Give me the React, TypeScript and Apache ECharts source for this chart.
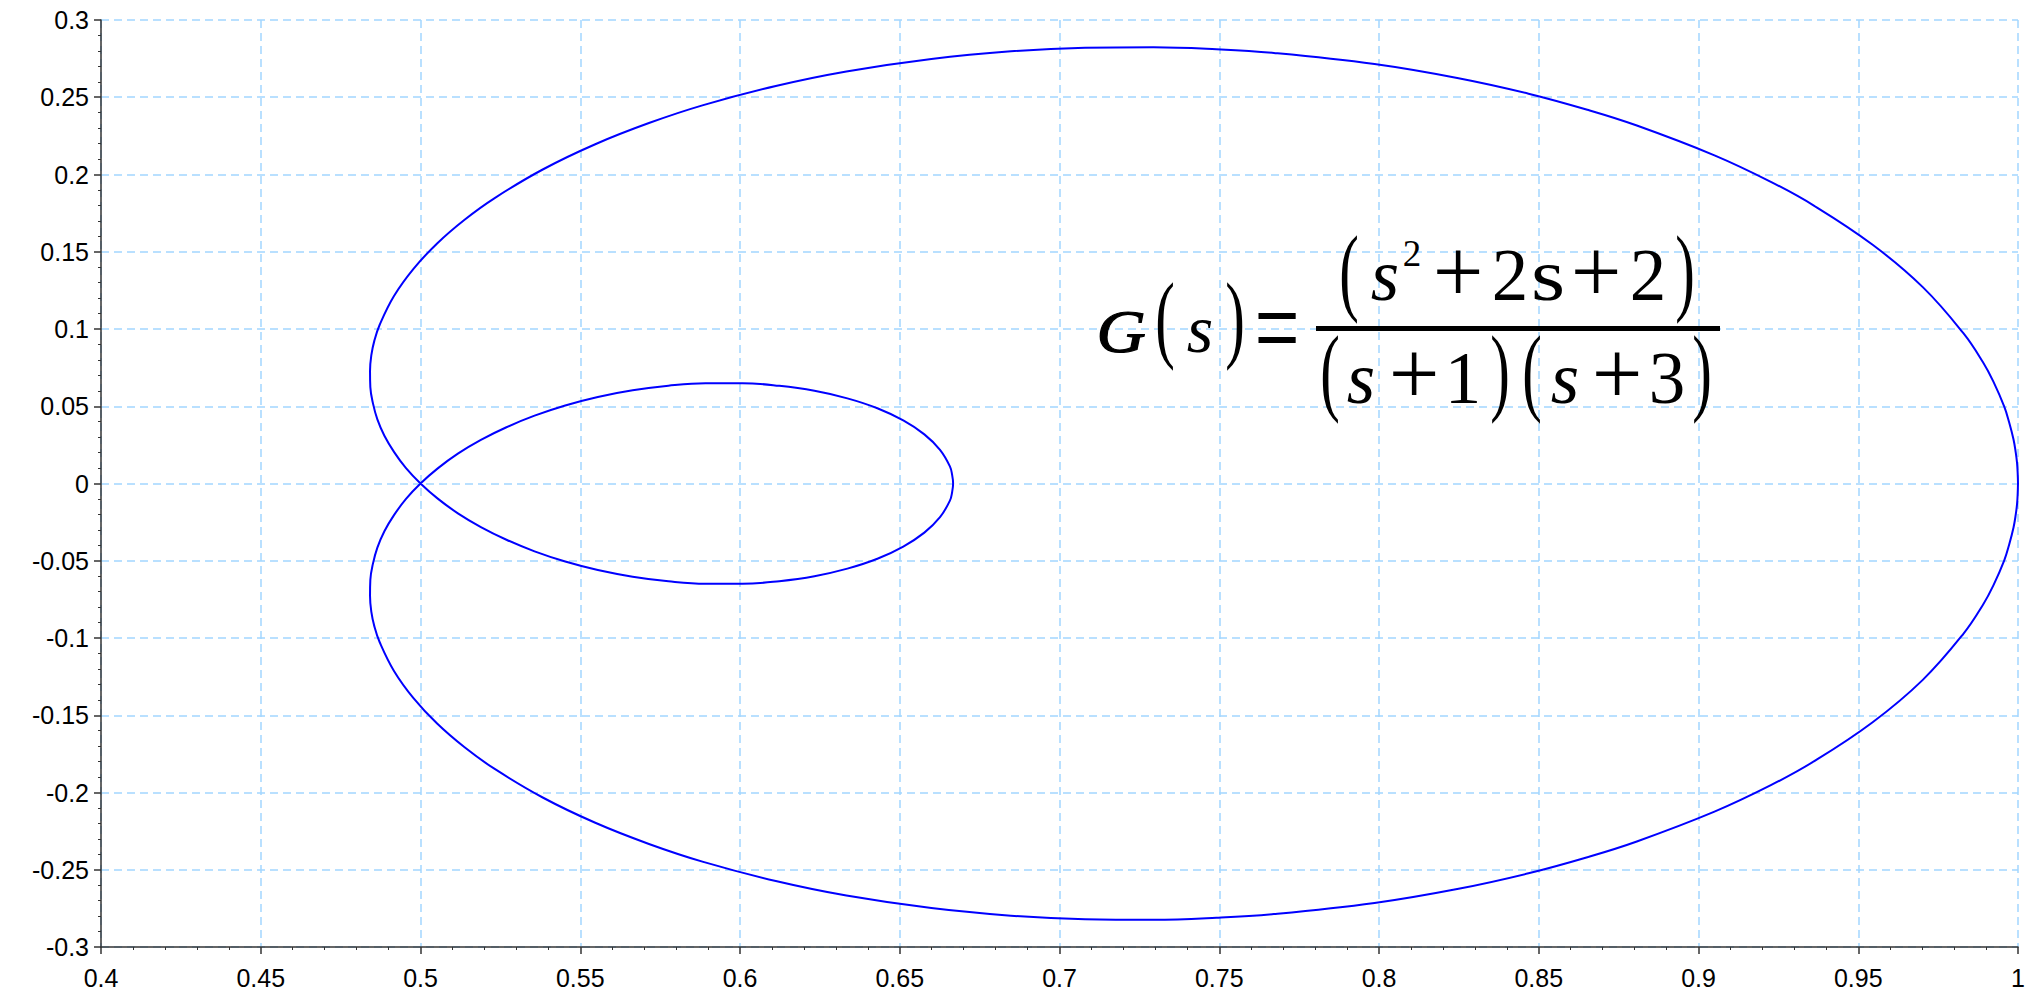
import React, { useEffect, useRef } from "react";
import * as echarts from "echarts";

// Nyquist contour of G(jω): negative-frequency branch, ω from −∞ up to 0−
const negFreqRe = [
  1.0, 0.9999, 0.9997, 0.9993, 0.9986, 0.9972, 0.9957, 0.9923, 0.989, 0.9829,
  0.9702, 0.9544, 0.9361, 0.9228, 0.905, 0.8807, 0.8652, 0.8468, 0.8249, 0.7986,
  0.7671, 0.7491, 0.7294, 0.708, 0.6848, 0.6599, 0.6333, 0.6112, 0.5885, 0.5715,
  0.5547, 0.5384, 0.5231, 0.5137, 0.5052, 0.4978, 0.4917, 0.4872, 0.4856, 0.4846,
  0.4842, 0.4843, 0.4851, 0.4865, 0.4887, 0.4917, 0.4954, 0.5, 0.5054, 0.5117,
  0.5189, 0.5269, 0.5357, 0.5453, 0.5555, 0.5664, 0.5776, 0.5892, 0.6008, 0.6123,
  0.6233, 0.6336, 0.643, 0.6511, 0.6577, 0.6626, 0.6657, 0.6664,
];
const negFreqIm = [
  0, -0.0067, -0.0133, -0.02, -0.0285, -0.0398, -0.0497, -0.0659, -0.0786, -0.0973,
  -0.1271, -0.1547, -0.1799, -0.1951, -0.2124, -0.2317, -0.2419, -0.2523, -0.2623, -0.2715,
  -0.2787, -0.2811, -0.2824, -0.282, -0.2797, -0.2748, -0.2667, -0.2573, -0.2449, -0.2333,
  -0.2196, -0.2034, -0.1846, -0.1706, -0.1554, -0.1389, -0.1213, -0.1026, -0.0928, -0.0829,
  -0.0727, -0.0624, -0.052, -0.0415, -0.0309, -0.0205, -0.0101, 0, 0.0098, 0.0193,
  0.0282, 0.0364, 0.0439, 0.0505, 0.056, 0.0603, 0.0633, 0.0649, 0.0649, 0.0632,
  0.06, 0.0551, 0.0487, 0.0408, 0.0318, 0.0218, 0.0111, 0.0055,
];

// Positive-frequency branch, ω from 0 up to +∞
const posFreqRe = [
  0.6667, 0.6664, 0.6657, 0.6626, 0.6577, 0.6511, 0.643, 0.6336, 0.6233, 0.6123,
  0.6008, 0.5892, 0.5776, 0.5664, 0.5555, 0.5453, 0.5357, 0.5269, 0.5189, 0.5117,
  0.5054, 0.5, 0.4954, 0.4917, 0.4887, 0.4865, 0.4851, 0.4843, 0.4842, 0.4846,
  0.4856, 0.4872, 0.4917, 0.4978, 0.5052, 0.5137, 0.5231, 0.5384, 0.5547, 0.5715,
  0.5885, 0.6112, 0.6333, 0.6599, 0.6848, 0.708, 0.7294, 0.7491, 0.7671, 0.7986,
  0.8249, 0.8468, 0.8652, 0.8807, 0.905, 0.9228, 0.9361, 0.9544, 0.9702, 0.9829,
  0.989, 0.9923, 0.9957, 0.9972, 0.9986, 0.9993, 0.9997, 0.9999, 1.0,
];
const posFreqIm = [
  0, -0.0055, -0.0111, -0.0218, -0.0318, -0.0408, -0.0487, -0.0551, -0.06, -0.0632,
  -0.0649, -0.0649, -0.0633, -0.0603, -0.056, -0.0505, -0.0439, -0.0364, -0.0282, -0.0193,
  -0.0098, 0, 0.0101, 0.0205, 0.0309, 0.0415, 0.052, 0.0624, 0.0727, 0.0829,
  0.0928, 0.1026, 0.1213, 0.1389, 0.1554, 0.1706, 0.1846, 0.2034, 0.2196, 0.2333,
  0.2449, 0.2573, 0.2667, 0.2748, 0.2797, 0.282, 0.2824, 0.2811, 0.2787, 0.2715,
  0.2623, 0.2523, 0.2419, 0.2317, 0.2124, 0.1951, 0.1799, 0.1547, 0.1271, 0.0973,
  0.0786, 0.0659, 0.0497, 0.0398, 0.0285, 0.02, 0.0133, 0.0067, 0,
];

const xRange = [0.4, 1.0];
const yRange = [-0.3, 0.3];
const tickStep = 0.05;

const SERIF = '"Liberation Serif", "Times New Roman", "DejaVu Serif", serif';
const F = 73;

type Glyph = {
  t: string;
  cx: number;
  cy: number;
  size?: number;
  italic?: boolean;
  heavy?: boolean;
  sx?: number;
  sy?: number;
};

// Transfer function, typeset glyph by glyph
const PAREN = 98;
const PAREN_SX = 0.6;
const PLUS = 90;
const formulaGlyphs: Glyph[] = [
  // G(s) =
  { t: "G", cx: 1121, cy: 331, size: 62, italic: true, heavy: true, sx: 1.1 },
  { t: "(", cx: 1165, cy: 317, size: PAREN, sx: PAREN_SX },
  { t: "s", cx: 1200, cy: 329, size: 68, italic: true },
  { t: ")", cx: 1235, cy: 317, size: PAREN, sx: PAREN_SX },
  { t: "=", cx: 1277, cy: 327, size: 80, sy: 1.5 },
  // numerator
  { t: "(", cx: 1349, cy: 270, size: PAREN, sx: PAREN_SX },
  { t: "s", cx: 1385, cy: 275, italic: true },
  { t: "2", cx: 1412, cy: 253, size: 37 },
  { t: "+", cx: 1458, cy: 271, size: PLUS },
  { t: "2", cx: 1510, cy: 275 },
  { t: "s", cx: 1548, cy: 275, sx: 1.2 },
  { t: "+", cx: 1596, cy: 271, size: PLUS },
  { t: "2", cx: 1648, cy: 275 },
  { t: ")", cx: 1685, cy: 270, size: PAREN, sx: PAREN_SX },
  // denominator
  { t: "(", cx: 1330, cy: 370, size: PAREN, sx: PAREN_SX },
  { t: "s", cx: 1361, cy: 378, italic: true },
  { t: "+", cx: 1414, cy: 373, size: PLUS },
  { t: "1", cx: 1463, cy: 378 },
  { t: ")", cx: 1500, cy: 370, size: PAREN, sx: PAREN_SX },
  { t: "(", cx: 1532, cy: 370, size: PAREN, sx: PAREN_SX },
  { t: "s", cx: 1565, cy: 378, italic: true },
  { t: "+", cx: 1617, cy: 373, size: PLUS },
  { t: "3", cx: 1667, cy: 378 },
  { t: ")", cx: 1702, cy: 370, size: PAREN, sx: PAREN_SX },
];

export default function App() {
  const ref = useRef<HTMLDivElement>(null);

  useEffect(() => {
    if (!ref.current) return;
    const chart = echarts.init(ref.current, undefined, { renderer: "svg" });

    const contour = [
      ...negFreqRe.map((re, i) => [re, negFreqIm[i]]),
      ...posFreqRe.map((re, i) => [re, posFreqIm[i]]),
    ];

    const axisCommon = {
      type: "value" as const,
      interval: tickStep,
      axisLine: { show: true, onZero: false, lineStyle: { color: "#333", width: 1.5 } },
      axisTick: { show: true, length: 7, lineStyle: { color: "#333", width: 1.5 } },
      minorTick: { show: true, splitNumber: 5, length: 3, lineStyle: { color: "#333", width: 1 } },
      splitLine: { show: true, lineStyle: { color: "#a3d6ff", type: [8, 5], width: 1.5 } },
      axisLabel: { color: "#000", fontSize: 25, fontFamily: '"Liberation Sans", Arial, sans-serif' },
    };

    const graphics: any[] = formulaGlyphs.map((g) => ({
      type: "text",
      x: g.cx,
      y: g.cy,
      scaleX: g.sx ?? 1,
      scaleY: g.sy ?? 1,
      style: {
        text: g.t,
        font: `${g.italic ? "italic " : ""}${g.size ?? F}px ${SERIF}`,
        fill: "#000",
        stroke: g.heavy ? "#000" : undefined,
        lineWidth: g.heavy ? 1.2 : 0,
        textAlign: "center",
        textVerticalAlign: "middle",
      },
      z: 10,
    }));
    graphics.push({
      type: "rect",
      shape: { x: 1316, y: 326, width: 404, height: 5 },
      style: { fill: "#000" },
      z: 10,
    });

    chart.setOption({
      animation: false,
      backgroundColor: "#fff",
      grid: { left: 101, right: 19, top: 20, bottom: 50, containLabel: false },
      xAxis: {
        ...axisCommon,
        min: xRange[0],
        max: xRange[1],
        axisLabel: { ...axisCommon.axisLabel, margin: 18 },
      },
      yAxis: {
        ...axisCommon,
        min: yRange[0],
        max: yRange[1],
        axisLabel: { ...axisCommon.axisLabel, margin: 12 },
      },
      series: [
        {
          type: "line",
          data: contour,
          smooth: 0.4,
          showSymbol: false,
          symbol: "none",
          lineStyle: { color: "#0000ff", width: 2 },
          z: 5,
        },
      ],
      graphic: graphics,
    });

    return () => chart.dispose();
  }, []);

  return (
    <div
      ref={ref}
      style={{ position: "absolute", left: 0, top: 0, width: 2037, height: 997 }}
    />
  );
}
